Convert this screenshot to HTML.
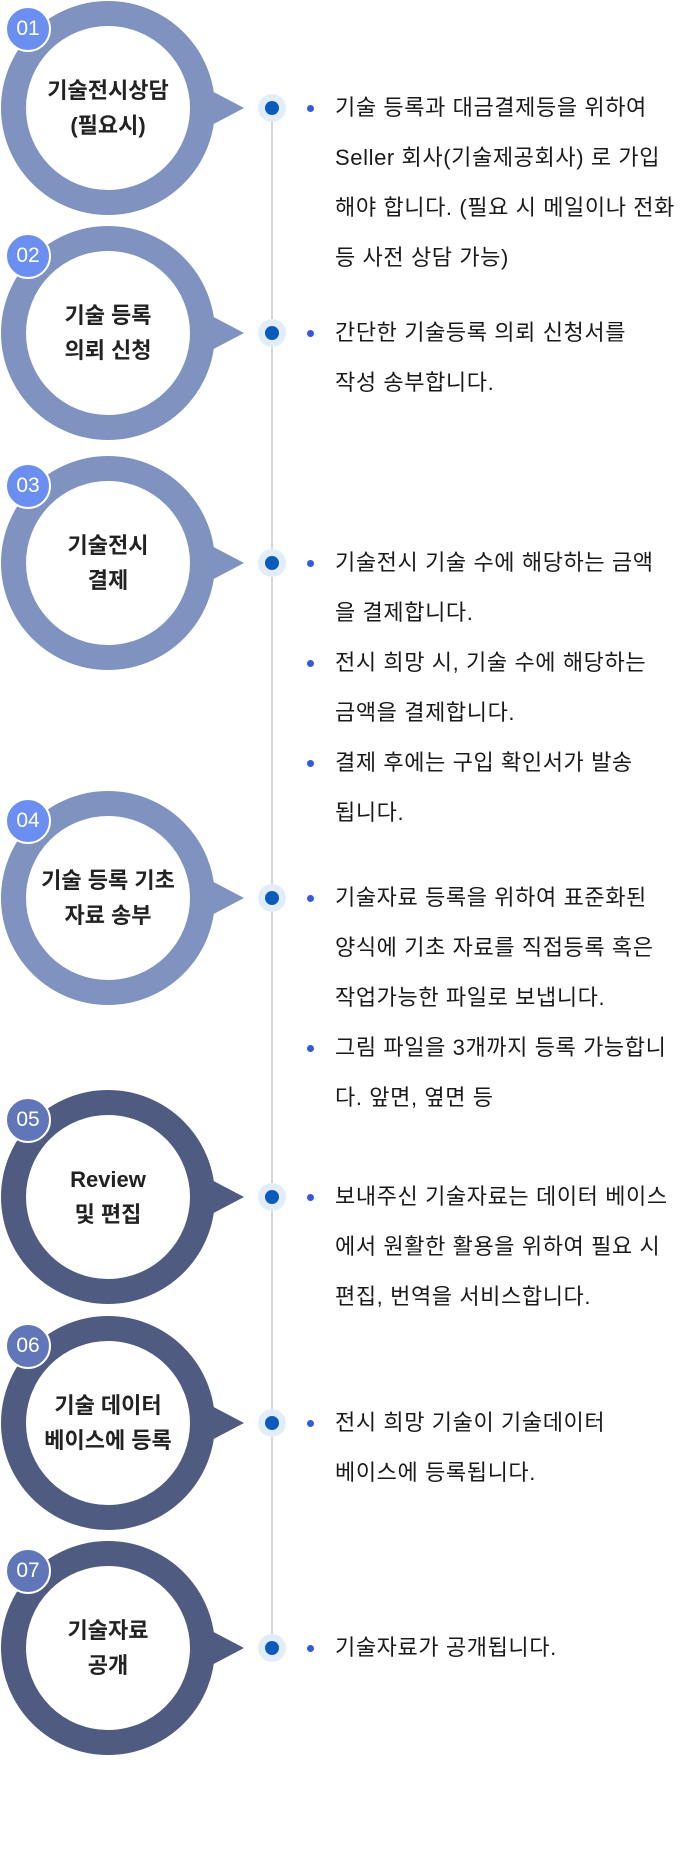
<!DOCTYPE html>
<html><head><meta charset="utf-8"><style>
body{margin:0;width:680px;height:1855px;background:#fff;position:relative;overflow:hidden;font-family:"Liberation Sans","Noto Sans CJK KR",sans-serif;}
.c{position:absolute;left:1px;width:164px;height:164px;border:25px solid #7f92c0;border-radius:50%;background:#fff;}
.c.d{border-color:#4f5b80;}
.tri{position:absolute;left:206px;width:0;height:0;border-top:20px solid transparent;border-bottom:20px solid transparent;border-left:38px solid #7f92c0;}
.tri.d{border-left-color:#4f5b80;}
.lab{position:absolute;left:0;width:216px;text-align:center;font-weight:bold;font-size:22px;line-height:35px;color:#222;}
.b{position:absolute;left:5px;width:42px;height:42px;border:2px solid #fff;border-radius:50%;background:#6b8ff0;color:#fff;font-size:21px;line-height:42px;text-align:center;}
.b.d{background:#6176b8;}
.dot{position:absolute;left:258px;width:28px;height:28px;border-radius:50%;background:#e2edfc;}
.dot:after{content:"";position:absolute;left:7px;top:7px;width:14px;height:14px;border-radius:50%;background:#0a5bbb;}
.t{position:absolute;left:335px;font-size:22px;line-height:50px;color:#1a1a1a;white-space:nowrap;letter-spacing:0.6px;}
.bl{position:absolute;left:307px;width:7px;height:7px;border-radius:50%;background:#3558e0;}
.line{position:absolute;left:271px;top:110px;width:2px;height:1538px;background:#d6d6d6;}
</style></head><body>
<div class="line"></div>

<div class="c" style="top:1px"></div><div class="tri" style="top:88px"></div>
<div class="lab" style="top:73px">기술전시상담<br>(필요시)</div>
<div class="b" style="top:6px">01</div>
<div class="dot" style="top:94px"></div>
<div class="bl" style="top:105px"></div>
<div class="t" style="top:83px">기술 등록과 대금결제등을 위하여<br>Seller 회사(기술제공회사) 로 가입<br>해야 합니다. (필요 시 메일이나 전화<br>등 사전 상담 가능)</div>

<div class="c" style="top:226px"></div><div class="tri" style="top:313px"></div>
<div class="lab" style="top:298px">기술 등록<br>의뢰 신청</div>
<div class="b" style="top:233px">02</div>
<div class="dot" style="top:319px"></div>
<div class="bl" style="top:330px"></div>
<div class="t" style="top:308px">간단한 기술등록 의뢰 신청서를<br>작성 송부합니다.</div>

<div class="c" style="top:456px"></div><div class="tri" style="top:543px"></div>
<div class="lab" style="top:528px">기술전시<br>결제</div>
<div class="b" style="top:463px">03</div>
<div class="dot" style="top:549px"></div>
<div class="bl" style="top:560px"></div>
<div class="bl" style="top:660px"></div>
<div class="bl" style="top:760px"></div>
<div class="t" style="top:538px">기술전시 기술 수에 해당하는 금액<br>을 결제합니다.<br>전시 희망 시, 기술 수에 해당하는<br>금액을 결제합니다.<br>결제 후에는 구입 확인서가 발송<br>됩니다.</div>

<div class="c" style="top:791px"></div><div class="tri" style="top:878px"></div>
<div class="lab" style="top:863px">기술 등록 기초<br>자료 송부</div>
<div class="b" style="top:798px">04</div>
<div class="dot" style="top:884px"></div>
<div class="bl" style="top:895px"></div>
<div class="bl" style="top:1045px"></div>
<div class="t" style="top:873px">기술자료 등록을 위하여 표준화된<br>양식에 기초 자료를 직접등록 혹은<br>작업가능한 파일로 보냅니다.<br>그림 파일을 3개까지 등록 가능합니<br>다. 앞면, 옆면 등</div>

<div class="c d" style="top:1090px"></div><div class="tri d" style="top:1177px"></div>
<div class="lab" style="top:1162px">Review<br>및 편집</div>
<div class="b d" style="top:1097px">05</div>
<div class="dot" style="top:1183px"></div>
<div class="bl" style="top:1194px"></div>
<div class="t" style="top:1172px">보내주신 기술자료는 데이터 베이스<br>에서 원활한 활용을 위하여 필요 시<br>편집, 번역을 서비스합니다.</div>

<div class="c d" style="top:1316px"></div><div class="tri d" style="top:1403px"></div>
<div class="lab" style="top:1388px">기술 데이터<br>베이스에 등록</div>
<div class="b d" style="top:1323px">06</div>
<div class="dot" style="top:1409px"></div>
<div class="bl" style="top:1420px"></div>
<div class="t" style="top:1398px">전시 희망 기술이 기술데이터<br>베이스에 등록됩니다.</div>

<div class="c d" style="top:1541px"></div><div class="tri d" style="top:1628px"></div>
<div class="lab" style="top:1613px">기술자료<br>공개</div>
<div class="b d" style="top:1548px">07</div>
<div class="dot" style="top:1634px"></div>
<div class="bl" style="top:1645px"></div>
<div class="t" style="top:1623px">기술자료가 공개됩니다.</div>
</body></html>
